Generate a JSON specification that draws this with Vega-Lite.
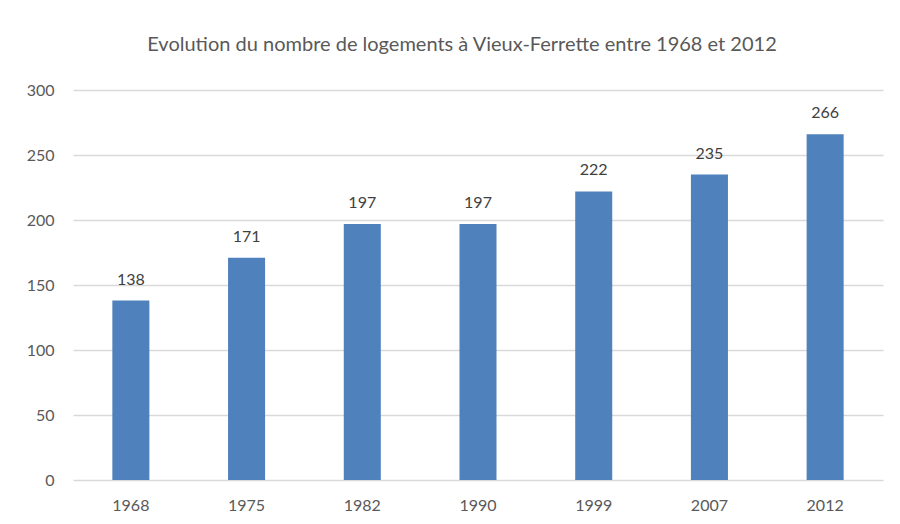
{
  "$schema": "https://vega.github.io/schema/vega-lite/v6.json",
  "width": 810,
  "height": 390,
  "autosize": {"type": "none"},
  "padding": {"left": 73, "top": 90, "right": 17, "bottom": 44},
  "background": "white",
  "title": {
    "text": "Evolution du nombre de logements à Vieux-Ferrette entre 1968 et 2012",
    "font": "Lato",
    "fontSize": 20,
    "fontWeight": "normal",
    "color": "#595959",
    "anchor": "middle",
    "dx": -16,
    "offset": 27
  },
  "data": {
    "values": [
      {"annee": "1968", "logements": 138},
      {"annee": "1975", "logements": 171},
      {"annee": "1982", "logements": 197},
      {"annee": "1990", "logements": 197},
      {"annee": "1999", "logements": 222},
      {"annee": "2007", "logements": 235},
      {"annee": "2012", "logements": 266}
    ]
  },
  "config": {
    "view": {"stroke": null},
    "font": "Lato"
  },
  "encoding": {
    "x": {
      "field": "annee",
      "type": "ordinal",
      "sort": null,
      "scale": {"paddingInner": 0.68, "paddingOuter": 0.34},
      "axis": {
        "title": null,
        "labelAngle": 0,
        "labelFontSize": 16,
        "labelColor": "#595959",
        "labelFont": "Lato",
        "ticks": false,
        "domain": false,
        "labelPadding": 17
      }
    },
    "y": {
      "field": "logements",
      "type": "quantitative",
      "scale": {"domain": [0, 300]},
      "axis": {
        "title": null,
        "values": [0, 50, 100, 150, 200, 250, 300],
        "labelFontSize": 16,
        "labelColor": "#595959",
        "labelFont": "Lato",
        "ticks": false,
        "domain": false,
        "labelPadding": 19,
        "gridColor": "#D9D9D9",
        "gridWidth": 1.3
      }
    }
  },
  "layer": [
    {"mark": {"type": "bar", "color": "#4F81BD"}},
    {
      "mark": {"type": "text", "dy": -16, "fontSize": 16, "color": "#404040", "font": "Lato", "baseline": "alphabetic"},
      "encoding": {"text": {"field": "logements", "type": "quantitative"}}
    }
  ]
}
